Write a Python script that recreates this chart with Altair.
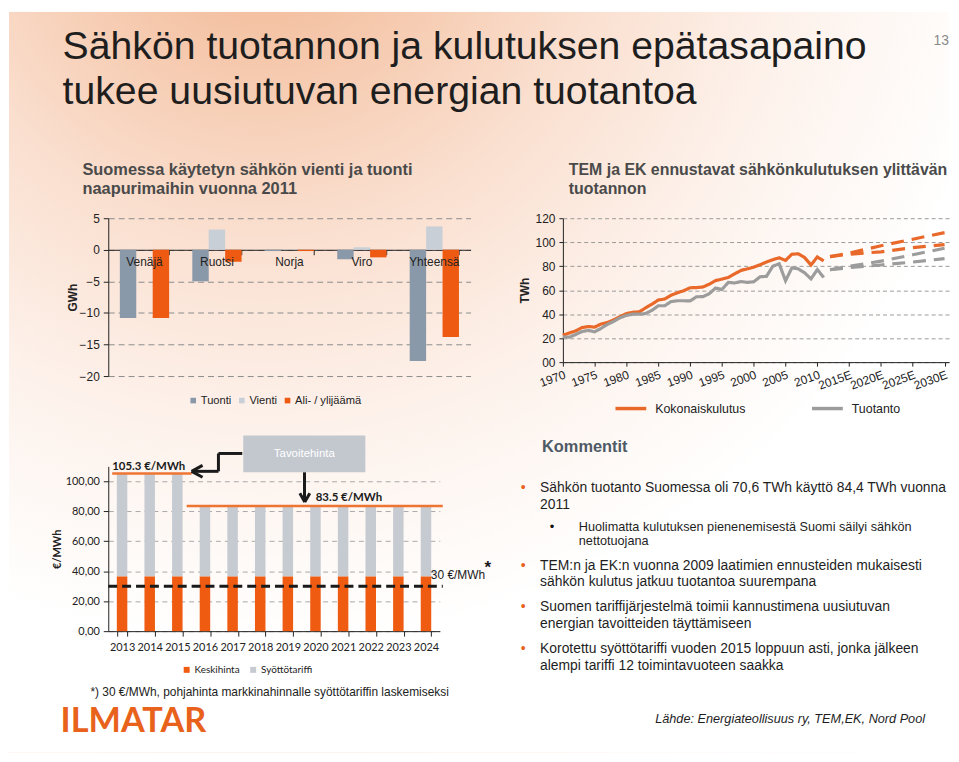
import altair as alt
import pandas as pd

# ---------------- data ----------------
# top-left: import / export 2011
maat = ["Venäjä", "Ruotsi", "Norja", "Viro", "Yhteensä"]
tuonti = [-10.8, -5.0, -0.2, -1.5, -17.6]
vienti = [0.0, 3.2, 0.05, 0.4, 3.7]
alijaama = [-10.8, -1.9, -0.2, -1.2, -13.8]
tl_sarjat = ["Tuonti", "Vienti", "Ali- / ylijäämä"]
tl_varit = ["#8a99aa", "#c9cfd7", "#ee5a12"]
tl_yticks = [-20, -15, -10, -5, 0, 5]

# top-right: consumption vs production
vuodet = list(range(1970, 2012))
kulutus = [22.5, 24.3, 26.0, 28.8, 29.7, 29.2, 31.8, 33.0, 35.3, 38.0,
           40.5, 41.6, 42.0, 45.2, 48.3, 51.8, 52.6, 55.8, 57.8, 59.6,
           62.0, 62.2, 62.6, 65.0, 68.0, 69.2, 70.6, 73.6, 76.5, 77.8,
           79.2, 81.2, 83.5, 85.4, 87.0, 84.8, 90.0, 90.3, 87.2, 81.0,
           87.7, 84.4]
tuotanto = [21.0, 20.8, 23.0, 25.5, 26.5, 25.2, 28.2, 31.5, 34.0, 37.0,
            39.0, 40.0, 40.0, 40.5, 43.2, 47.0, 47.0, 50.5, 51.2, 51.2,
            51.0, 54.5, 54.6, 57.0, 61.8, 60.5, 66.5, 66.0, 67.2, 66.5,
            67.0, 71.2, 71.5, 80.0, 82.0, 67.9, 78.6, 77.8, 74.5, 69.4,
            77.2, 70.6]
ennuste_vuodet = [2012, 2015, 2020, 2025, 2030]
kulutus_yla = [88.0, 91.0, 97.0, 102.5, 108.0]
kulutus_ala = [88.0, 90.0, 92.0, 95.5, 98.0]
tuotanto_yla = [77.0, 80.0, 84.2, 89.5, 95.0]
tuotanto_ala = [77.0, 78.8, 81.0, 83.5, 86.3]
tr_sarjat = ["Kokonaiskulutus", "Tuotanto"]
tr_varit = ["#e8692a", "#9c9c9c"]
tr_xticks = [1970, 1975, 1980, 1985, 1990, 1995, 2000, 2005, 2010, 2015, 2020, 2025, 2030]
tr_yticks = [0, 20, 40, 60, 80, 100, 120]

# bottom-left: feed-in tariff
bl_vuodet = ["2013", "2014", "2015", "2016", "2017", "2018", "2019", "2020",
             "2021", "2022", "2023", "2024"]
keskihinta = [36.6, 36.6, 36.6, 36.6, 36.6, 36.6, 36.6, 36.6, 36.6, 36.6, 36.6, 36.6]
syottotariffi = [68.7, 68.7, 68.7, 46.9, 46.9, 46.9, 46.9, 46.9, 46.9, 46.9, 46.9, 46.9]
bl_sarjat = ["Keskihinta", "Syöttötariffi"]
bl_varit = ["#ef5b10", "#c6cbd2"]
bl_yticks = [0, 20, 40, 60, 80, 100]
tavoite_korkea = 105.3
tavoite_matala = 83.5
pohjahinta = 30

# texts
otsikko = ["Sähkön tuotannon ja kulutuksen epätasapaino", "tukee uusiutuvan energian tuotantoa"]
ala_otsikko_1 = ["Suomessa käytetyn sähkön vienti ja tuonti", "naapurimaihin vuonna 2011"]
ala_otsikko_2 = ["TEM ja EK ennustavat sähkönkulutuksen ylittävän", "tuotannon"]
kommentit = [
    ["Sähkön tuotanto Suomessa oli 70,6 TWh käyttö 84,4 TWh vuonna", "2011"],
    ["TEM:n ja EK:n vuonna 2009 laatimien ennusteiden mukaisesti", "sähkön kulutus jatkuu tuotantoa suurempana"],
    ["Suomen tariffijärjestelmä toimii kannustimena uusiutuvan", "energian tavoitteiden täyttämiseen"],
    ["Korotettu syöttötariffi vuoden 2015 loppuun asti, jonka jälkeen", "alempi tariffi 12 toimintavuoteen saakka"],
]
alakohta = ["Huolimatta kulutuksen pienenemisestä Suomi säilyi sähkön", "nettotuojana"]
lahde = "Lähde: Energiateollisuus ry, TEM,EK, Nord Pool"
alaviite = "*) 30 €/MWh, pohjahinta markkinahinnalle syöttötariffin laskemiseksi"

ARIAL = "Liberation Sans"
NARROW = "Liberation Sans Narrow, Liberation Sans"
CAL = "Lato"

one = pd.DataFrame({"a": [0]})


def txt(text, x, y, **kw):
    style = dict(align="left", baseline="alphabetic", font=ARIAL, color="#222222")
    style.update(kw)
    return alt.Chart(one).mark_text(text=text, **style).encode(x=alt.value(x), y=alt.value(y))


def spacer(w, h):
    return alt.Chart(one).mark_point(opacity=0, size=1).encode(
        x=alt.value(0), y=alt.value(0)).properties(width=w, height=h)


# ---------------- header ----------------
bg = alt.Chart(one).mark_rect(fill={
    "gradient": "radial", "x1": 0.27, "y1": -0.02, "r1": 0.0,
    "x2": 0.27, "y2": -0.02, "r2": 0.8,
    "stops": [
        {"offset": 0.0, "color": "#efad86"},
        {"offset": 0.2, "color": "#f5c6a9"},
        {"offset": 0.45, "color": "#fadfcf"},
        {"offset": 0.7, "color": "#fdf1ea"},
        {"offset": 1.0, "color": "#ffffff"},
    ]}).encode(x=alt.value(0), x2=alt.value(947), y=alt.value(0), y2=alt.value(746))

header = alt.layer(
    bg,
    txt(otsikko, 54, 48, fontSize=39.5, lineHeight=45, color="#1e1e1e"),
    txt("13", 947, 33, align="right", fontSize=14, color="#8a8a8a"),
    txt(ala_otsikko_1, 74, 164, font=NARROW, fontSize=16.5, fontWeight="bold", lineHeight=20, color="#4a4a4a"),
    txt(ala_otsikko_2, 564, 164, font=NARROW, fontSize=16, fontWeight="bold", lineHeight=20, color="#4a4a4a"),
).properties(width=100, height=208)

# ---------------- top-left chart ----------------
tl_rows = []
for i, m in enumerate(maat):
    for s, vals in zip(tl_sarjat, [tuonti, vienti, alijaama]):
        tl_rows.append({"maa": m, "sarja": s, "arvo": vals[i]})
tl_df = pd.DataFrame(tl_rows)

tl_x = alt.X("maa:N", sort=maat, scale=alt.Scale(paddingInner=0.32, paddingOuter=0.16),
             axis=alt.Axis(title=None, labels=False, tickBand="extent", offset=-127.2,
                           domainColor="#222222", tickColor="#222222", tickSize=5, grid=False))
tl_bars = alt.Chart(tl_df).mark_bar().encode(
    x=tl_x,
    xOffset=alt.XOffset("sarja:N", sort=tl_sarjat),
    y=alt.Y("arvo:Q", scale=alt.Scale(domain=[-20, 5], nice=False),
            axis=alt.Axis(values=tl_yticks, grid=True, gridDash=[6, 4], gridColor="#8c8c8c",
                          domainColor="#222222", tickColor="#222222", tickSize=5,
                          labelFont=ARIAL, labelFontSize=12, labelColor="#222222", labelPadding=4,
                          labelOverlap=False,
                          title="GWh", titleFont=ARIAL, titleFontSize=12, titleFontWeight="bold",
                          titleColor="#222222", titleX=-36, titleY=79.5, titleAngle=-90,
                          titleAlign="center", titleBaseline="middle")),
    color=alt.Color("sarja:N", sort=tl_sarjat, scale=alt.Scale(domain=tl_sarjat, range=tl_varit),
                    legend=alt.Legend(orient="none", direction="horizontal", legendX=80, legendY=178,
                                      title=None, symbolType="square", symbolSize=32,
                                      labelFont=ARIAL, labelFontSize=11.2, labelColor="#222222",
                                      labelOffset=2, columnPadding=5, symbolStrokeWidth=0)),
)
tl_labels = alt.Chart(pd.DataFrame({"maa": maat})).mark_text(
    font=ARIAL, fontSize=12, color="#222222", baseline="middle").encode(
    x=alt.X("maa:N", sort=maat), y=alt.YDatum(-2.0, axis=None), text="maa:N")
tl = alt.layer(tl_bars, tl_labels).resolve_axis(y="independent").properties(width=365, height=159)

# ---------------- top-right chart ----------------
tr_rows = []
for s, vals in zip(tr_sarjat, [kulutus, tuotanto]):
    for y, v in zip(vuodet, vals):
        tr_rows.append({"sarja2": s, "vuosi": y, "arvo": v, "tyyppi": "toteutunut", "skenaario": "hist"})
for s, yla, ala in [(tr_sarjat[0], kulutus_yla, kulutus_ala), (tr_sarjat[1], tuotanto_yla, tuotanto_ala)]:
    for y, v in zip(ennuste_vuodet, yla):
        tr_rows.append({"sarja2": s, "vuosi": y, "arvo": v, "tyyppi": "ennuste", "skenaario": "yla"})
    for y, v in zip(ennuste_vuodet, ala):
        tr_rows.append({"sarja2": s, "vuosi": y, "arvo": v, "tyyppi": "ennuste", "skenaario": "ala"})
tr_df = pd.DataFrame(tr_rows)

tr = alt.Chart(tr_df).mark_line(strokeWidth=3.2).encode(
    x=alt.X("vuosi:Q", scale=alt.Scale(domain=[1970, 2030.7], nice=False, zero=False),
            axis=alt.Axis(values=tr_xticks, title=None, grid=False, labelOverlap=False,
                          labelExpr="datum.value > 2010 ? datum.value + 'E' : '' + datum.value",
                          labelAngle=-20, labelAlign="right", labelBaseline="top", labelPadding=3,
                          labelFont=ARIAL, labelFontSize=12, labelColor="#222222",
                          domainColor="#222222", tickColor="#222222", tickSize=4)),
    y=alt.Y("arvo:Q", scale=alt.Scale(domain=[0, 120], nice=False),
            axis=alt.Axis(values=tr_yticks, grid=True, gridDash=[4, 3], gridColor="#9a9a9a",
                          labelExpr="datum.value == 0 ? '00' : datum.label", labelOverlap=False,
                          labelFont=ARIAL, labelFontSize=12, labelColor="#222222", labelPadding=4,
                          domainColor="#222222", tickColor="#222222", tickSize=4,
                          title="TWh", titleFont=ARIAL, titleFontSize=12, titleFontWeight="bold",
                          titleColor="#222222", titleX=-39, titleY=72.5, titleAngle=-90,
                          titleAlign="center", titleBaseline="middle")),
    color=alt.Color("sarja2:N", scale=alt.Scale(domain=tr_sarjat, range=tr_varit),
                    legend=alt.Legend(orient="none", direction="horizontal", legendX=51, legendY=174,
                                      title=None, symbolType="stroke", symbolSize=961,
                                      symbolStrokeWidth=3.5, labelFont=ARIAL, labelFontSize=12.5,
                                      labelColor="#222222", labelOffset=7, columnPadding=59)),
    strokeDash=alt.StrokeDash("tyyppi:N", scale=alt.Scale(domain=["toteutunut", "ennuste"],
                                                           range=[[1, 0], [13, 8]]), legend=None),
    detail="skenaario:N",
).properties(width=389, height=145)

# ---------------- bottom-left chart ----------------
bl_rows = []
for i, y in enumerate(bl_vuodet):
    bl_rows.append({"vuosi3": y, "sarja3": bl_sarjat[0], "arvo3": keskihinta[i], "ord": 0})
    bl_rows.append({"vuosi3": y, "sarja3": bl_sarjat[1], "arvo3": syottotariffi[i], "ord": 1})
bl_df = pd.DataFrame(bl_rows)

bl_bars = alt.Chart(bl_df).mark_bar().encode(
    x=alt.X("vuosi3:O", sort=bl_vuodet, scale=alt.Scale(paddingInner=0.62, paddingOuter=0.31),
            axis=alt.Axis(title=None, labelAngle=0, tickBand="extent", grid=False,
                          labelFont=CAL, labelFontSize=11, labelColor="#222222", labelPadding=6,
                          domainColor="#222222", tickColor="#222222", tickSize=5)),
    y=alt.Y("arvo3:Q", stack="zero", scale=alt.Scale(domain=[0, 110], nice=False),
            axis=alt.Axis(values=bl_yticks, grid=True, gridDash=[5, 4], gridColor="#a8a8a8",
                          labelExpr="replace(format(datum.value, '.2f'), '.', ',')",
                          labelOverlap=False,
                          labelFont=CAL, labelFontSize=11, labelColor="#222222", labelPadding=4,
                          domainColor="#222222", tickColor="#222222", tickSize=5,
                          title="€/MWh", titleFont=CAL, titleFontSize=11, titleFontWeight="bold",
                          titleColor="#222222", titleX=-51, titleY=83, titleAngle=-90,
                          titleAlign="center", titleBaseline="middle")),
    color=alt.Color("sarja3:N", scale=alt.Scale(domain=bl_sarjat, range=bl_varit),
                    legend=alt.Legend(orient="none", direction="horizontal", legendX=74, legendY=200,
                                      title=None, symbolType="square", symbolSize=36,
                                      symbolStrokeWidth=0, labelFont=CAL, labelFontSize=10,
                                      labelColor="#222222", labelOffset=3, columnPadding=8)),
    order=alt.Order("ord:Q"),
)


def hrule(level, x1, x2, **kw):
    return alt.Chart(one).mark_rule(**kw).encode(
        x=alt.value(x1), x2=alt.value(x2), y=alt.YDatum(level, axis=None))


def seg(x1, y1, x2, y2):
    return alt.Chart(one).mark_rule(color="#1a1a1a", strokeWidth=3).encode(
        x=alt.value(x1), x2=alt.value(x2), y=alt.value(y1), y2=alt.value(y2))


def dtxt(text, x, level, **kw):
    style = dict(align="left", baseline="bottom", font=CAL, color="#1a1a1a", fontSize=11.5)
    style.update(kw)
    return alt.Chart(one).mark_text(text=text, **style).encode(
        x=alt.value(x), y=alt.YDatum(level, axis=None))


# pixel offsets below are relative to the bottom-left plot origin
OX = 2
box = alt.Chart(one).mark_rect(fill="#c3c8cf").encode(
    x=alt.value(134 + OX), x2=alt.value(257 + OX), y=alt.value(-31), y2=alt.value(6))

bl = alt.layer(
    bl_bars,
    hrule(tavoite_korkea, 2 + OX, 82 + OX, color="#ee7433", strokeWidth=2.5),
    hrule(tavoite_matala, 77 + OX, 335 + OX, color="#ee7433", strokeWidth=2.5),
    hrule(pohjahinta, 0, 335 + OX, color="#1a1a1a", strokeWidth=3, strokeDash=[9, 5]),
    dtxt("105.3 €/MWh", 2 + OX, tavoite_korkea, fontWeight="bold", dy=-1),
    dtxt("83.5 €/MWh", 207 + OX, tavoite_matala, fontWeight="bold", dy=-3),
    dtxt("30 €/MWh", 323 + OX, pohjahinta, font=ARIAL, fontSize=12, dy=-4),
    dtxt("*", 377 + OX, pohjahinta, font=ARIAL, fontSize=17, fontWeight="bold", dy=-9),
    box,
    txt("Tavoitehinta", 195.5 + OX, -12.5, align="center", baseline="middle", fontSize=11.5, color="#ffffff"),
    seg(133 + OX, -13, 109 + OX, -13), seg(109 + OX, -13, 109 + OX, 5), seg(109 + OX, 5, 82 + OX, 5),
    seg(82 + OX, 5, 93 + OX, -1), seg(82 + OX, 5, 93 + OX, 11),
    seg(195.7 + OX, 6, 195.7 + OX, 35.5), seg(191 + OX, 27, 196 + OX, 36), seg(201 + OX, 27, 196 + OX, 36),
    txt(alaviite, -18, 231, font=NARROW, fontSize=12, color="#222222"),
    txt("ILMATAR", -48, 268, font=CAL, fontSize=34.5, fontWeight="bold", color="#e8621c"),
).resolve_axis(y="independent").properties(width=334, height=166)

# ---------------- comments (origin at page x 473, y 466) ----------------
kom_layers = [txt("Kommentit", 72, -14, fontSize=16.5, fontWeight="bold", color="#4e5a66")]
baselines = [26.3, 104, 145.7, 188]
for lines, yb in zip(kommentit, baselines):
    kom_layers.append(txt("•", 53, yb, align="center", fontSize=14, color="#e8621c"))
    kom_layers.append(txt(lines, 70, yb, fontSize=14, lineHeight=16.7, color="#1e1e1e"))
kom_layers.append(txt("•", 82, 65, align="center", fontSize=13, color="#111111"))
kom_layers.append(txt(alakohta, 109, 65, fontSize=12.8, lineHeight=14.7, color="#1e1e1e"))
kom_layers.append(txt(lahde, 186, 259, fontSize=12.8, fontStyle="italic", color="#1e1e1e"))
comments = alt.layer(*kom_layers).properties(width=1, height=166)

# ---------------- assemble (4-column grid, flush bounds) ----------------
cells = [
    header, spacer(1, 1), spacer(1, 1), spacer(1, 1),
    spacer(100, 159), tl, spacer(93, 159), tr,
    spacer(1, 91), spacer(1, 1), spacer(1, 1), spacer(1, 1),
    spacer(1, 1), bl, comments, spacer(1, 1),
]
chart = alt.concat(*cells, columns=4).properties(
    spacing=0, bounds="flush", align="each", padding=0, background="#ffffff"
).resolve_scale(
    x="independent", y="independent", color="independent", strokeDash="independent"
).resolve_legend(color="independent").configure_view(stroke=None)

chart.save("out.html", embed_options={"renderer": "svg", "actions": False})
